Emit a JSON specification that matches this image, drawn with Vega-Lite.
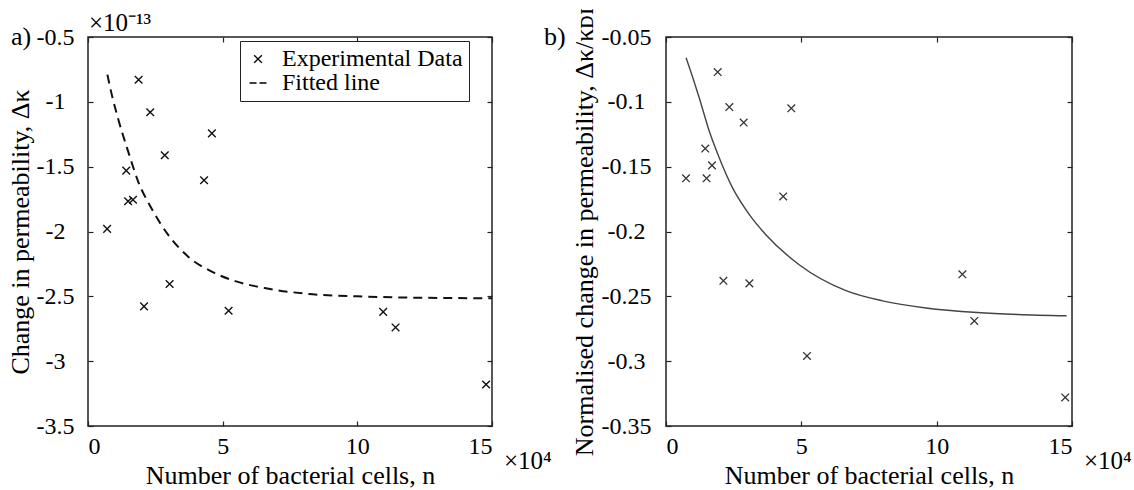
{
  "$schema": "https://vega.github.io/schema/vega-lite/v6.json",
  "background": "white",
  "padding": {"left": 6, "top": 6, "right": 0, "bottom": 0},
  "spacing": 174,
  "bounds": "flush",
  "config": {
    "font": "Liberation Serif",
    "view": {"stroke": "#222", "strokeWidth": 1.5},
    "axis": {"grid": false, "domain": false, "labelFont": "Liberation Serif", "titleFont": "Liberation Serif", "labelFontSize": 24, "titleFontSize": 26, "titleFontWeight": "normal", "labelColor": "black", "titleColor": "black", "tickColor": "#222", "tickWidth": 1.2, "tickSize": 5, "offset": -5},
    "legend": {"labelFont": "Liberation Serif", "labelFontSize": 24, "labelLimit": 0, "labelColor": "black", "strokeColor": "#222", "padding": 6, "rowPadding": 0, "labelOffset": 12, "symbolSize": 289, "symbolStrokeWidth": 1.3, "symbolStrokeColor": "black", "symbolFillColor": "transparent", "title": null, "fillColor": "white"},
    "text": {"font": "Liberation Serif", "fontSize": 26, "color": "black"}
  },
  "datasets": {
    "leftPts": [
      {"n": 0.71, "dk": -1.98, "s": "Experimental Data"},
      {"n": 1.88, "dk": -0.83, "s": "Experimental Data"},
      {"n": 2.31, "dk": -1.08, "s": "Experimental Data"},
      {"n": 1.42, "dk": -1.53, "s": "Experimental Data"},
      {"n": 1.49, "dk": -1.767, "s": "Experimental Data"},
      {"n": 1.67, "dk": -1.755, "s": "Experimental Data"},
      {"n": 2.85, "dk": -1.412, "s": "Experimental Data"},
      {"n": 4.60, "dk": -1.243, "s": "Experimental Data"},
      {"n": 4.31, "dk": -1.605, "s": "Experimental Data"},
      {"n": 2.08, "dk": -2.577, "s": "Experimental Data"},
      {"n": 3.03, "dk": -2.405, "s": "Experimental Data"},
      {"n": 5.22, "dk": -2.611, "s": "Experimental Data"},
      {"n": 10.96, "dk": -2.62, "s": "Experimental Data"},
      {"n": 11.42, "dk": -2.74, "s": "Experimental Data"},
      {"n": 14.78, "dk": -3.18, "s": "Experimental Data"}
    ],
    "leftFit": [
      {"n": 0.72, "dk": -0.79}, {"n": 0.9, "dk": -0.96}, {"n": 1.11, "dk": -1.125},
      {"n": 1.49, "dk": -1.382}, {"n": 1.86, "dk": -1.613}, {"n": 2.35, "dk": -1.819},
      {"n": 2.97, "dk": -2.024}, {"n": 3.71, "dk": -2.192}, {"n": 4.70, "dk": -2.32},
      {"n": 5.5, "dk": -2.385}, {"n": 6.56, "dk": -2.436}, {"n": 8, "dk": -2.478},
      {"n": 10, "dk": -2.50}, {"n": 12, "dk": -2.51}, {"n": 15, "dk": -2.515}
    ],
    "rightPts": [
      {"n": 0.74, "r": -0.159, "s": "Experimental Data"},
      {"n": 1.50, "r": -0.159, "s": "Experimental Data"},
      {"n": 1.45, "r": -0.136, "s": "Experimental Data"},
      {"n": 1.70, "r": -0.149, "s": "Experimental Data"},
      {"n": 1.91, "r": -0.077, "s": "Experimental Data"},
      {"n": 2.34, "r": -0.104, "s": "Experimental Data"},
      {"n": 2.87, "r": -0.116, "s": "Experimental Data"},
      {"n": 4.63, "r": -0.105, "s": "Experimental Data"},
      {"n": 4.33, "r": -0.173, "s": "Experimental Data"},
      {"n": 2.12, "r": -0.238, "s": "Experimental Data"},
      {"n": 3.08, "r": -0.240, "s": "Experimental Data"},
      {"n": 5.21, "r": -0.296, "s": "Experimental Data"},
      {"n": 10.95, "r": -0.233, "s": "Experimental Data"},
      {"n": 11.39, "r": -0.269, "s": "Experimental Data"},
      {"n": 14.75, "r": -0.328, "s": "Experimental Data"}
    ],
    "rightFit": [
      {"n": 0.74, "r": -0.066}, {"n": 1.0, "r": -0.082}, {"n": 1.23, "r": -0.097},
      {"n": 1.6, "r": -0.1227}, {"n": 1.97, "r": -0.1433}, {"n": 2.46, "r": -0.1664},
      {"n": 3.08, "r": -0.187}, {"n": 3.69, "r": -0.2025}, {"n": 4.92, "r": -0.2256},
      {"n": 6.65, "r": -0.2456}, {"n": 8.0, "r": -0.2535}, {"n": 9.6, "r": -0.259},
      {"n": 11.5, "r": -0.2625}, {"n": 13, "r": -0.264}, {"n": 14.8, "r": -0.265}
    ],
    "labA": [{"t": "a)"}],
    "labB": [{"t": "b)"}],
    "exp13": [{"t": "×10⁻¹³"}],
    "exp4": [{"t": "×10⁴"}]
  },
  "hconcat": [
    {
      "width": 404,
      "height": 389,
      "resolve": {"scale": {"x": "independent", "y": "independent"}},
      "layer": [
        {
          "data": {"name": "leftPts"},
          "mark": {"type": "point", "filled": false, "strokeWidth": 1.4, "color": "#111", "opacity": 1},
          "encoding": {
            "x": {"field": "n", "type": "quantitative", "scale": {"domain": [0, 15], "nice": false, "zero": false},
                  "axis": {"orient": "bottom", "values": [0, 5, 10, 15], "title": "Number of bacterial cells, n", "labelPadding": 8, "titlePadding": 4}},
            "y": {"field": "dk", "type": "quantitative", "scale": {"domain": [-3.5, -0.5], "nice": false, "zero": false},
                  "axis": {"orient": "left", "values": [-3.5, -3, -2.5, -2, -1.5, -1, -0.5], "labelExpr": "'' + datum.value", "labelAlign": "center", "labelPadding": 33, "title": "Change in permeability, Δκ", "titlePadding": 3}},
            "shape": {"field": "s", "type": "nominal",
                      "scale": {"domain": ["Experimental Data", "Fitted line"], "range": ["M-0.45,-0.45L0.45,0.45M-0.45,0.45L0.45,-0.45", "M-1,0L-0.17,0M0.17,0L1,0"]},
                      "legend": {"orient": "none", "legendX": 152, "legendY": 4}},
            "size": {"value": 289}
          }
        },
        {
          "data": {"name": "leftFit"},
          "mark": {"type": "line", "color": "#111", "strokeWidth": 2, "strokeDash": [9, 6], "interpolate": "monotone"},
          "encoding": {
            "x": {"field": "n", "type": "quantitative", "scale": {"domain": [0, 15], "nice": false, "zero": false},
                  "axis": {"orient": "top", "values": [0, 5, 10, 15], "labels": false, "title": null}},
            "y": {"field": "dk", "type": "quantitative", "scale": {"domain": [-3.5, -0.5], "nice": false, "zero": false},
                  "axis": {"orient": "right", "values": [-3.5, -3, -2.5, -2, -1.5, -1, -0.5], "labels": false, "title": null}}
          }
        },
        {
          "data": {"name": "labA"},
          "mark": {"type": "text", "align": "left", "baseline": "alphabetic", "dx": -77, "dy": 8},
          "encoding": {
            "x": {"datum": 0, "type": "quantitative", "scale": {"domain": [0, 15], "nice": false, "zero": false}, "axis": null},
            "y": {"datum": -0.5, "type": "quantitative", "scale": {"domain": [-3.5, -0.5], "nice": false, "zero": false}, "axis": null},
            "text": {"field": "t"}
          }
        },
        {
          "data": {"name": "exp13"},
          "mark": {"type": "text", "align": "left", "baseline": "alphabetic", "dx": 1, "dy": -6, "fontSize": 25},
          "encoding": {
            "x": {"datum": 0, "type": "quantitative", "scale": {"domain": [0, 15], "nice": false, "zero": false}, "axis": null},
            "y": {"datum": -0.5, "type": "quantitative", "scale": {"domain": [-3.5, -0.5], "nice": false, "zero": false}, "axis": null},
            "text": {"field": "t"}
          }
        },
        {
          "data": {"name": "exp4"},
          "mark": {"type": "text", "align": "left", "baseline": "alphabetic", "dx": 12, "dy": 43, "fontSize": 25},
          "encoding": {
            "x": {"datum": 15, "type": "quantitative", "scale": {"domain": [0, 15], "nice": false, "zero": false}, "axis": null},
            "y": {"datum": -3.5, "type": "quantitative", "scale": {"domain": [-3.5, -0.5], "nice": false, "zero": false}, "axis": null},
            "text": {"field": "t"}
          }
        }
      ]
    },
    {
      "width": 406,
      "height": 389,
      "resolve": {"scale": {"x": "independent", "y": "independent"}},
      "layer": [
        {
          "data": {"name": "rightPts"},
          "mark": {"type": "point", "filled": false, "strokeWidth": 1.3, "color": "#333", "opacity": 1},
          "encoding": {
            "x": {"field": "n", "type": "quantitative", "scale": {"domain": [0, 15], "nice": false, "zero": false},
                  "axis": {"orient": "bottom", "values": [0, 5, 10, 15], "title": "Number of bacterial cells, n", "labelPadding": 8, "titlePadding": 4}},
            "y": {"field": "r", "type": "quantitative", "scale": {"domain": [-0.35, -0.05], "nice": false, "zero": false},
                  "axis": {"orient": "left", "values": [-0.35, -0.3, -0.25, -0.2, -0.15, -0.1, -0.05], "labelExpr": "'' + datum.value", "labelAlign": "center", "labelPadding": 40, "title": "Normalised change in permeability, Δκ/κᴅɪ", "titlePadding": 4}},
            "shape": {"field": "s", "type": "nominal",
                      "scale": {"domain": ["Experimental Data", "Fitted line"], "range": ["M-0.5,0L0.5,0M0,-0.5L0,0.5", "M-1,0L1,0"]},
                      "legend": {"orient": "none", "legendX": 155, "legendY": 4}},
            "size": {"value": 289}
          }
        },
        {
          "data": {"name": "rightFit"},
          "mark": {"type": "line", "color": "#444", "strokeWidth": 1.4, "interpolate": "monotone"},
          "encoding": {
            "x": {"field": "n", "type": "quantitative", "scale": {"domain": [0, 15], "nice": false, "zero": false},
                  "axis": {"orient": "top", "values": [0, 5, 10, 15], "labels": false, "title": null}},
            "y": {"field": "r", "type": "quantitative", "scale": {"domain": [-0.35, -0.05], "nice": false, "zero": false},
                  "axis": {"orient": "right", "values": [-0.35, -0.3, -0.25, -0.2, -0.15, -0.1, -0.05], "labels": false, "title": null}}
          }
        },
        {
          "data": {"name": "labB"},
          "mark": {"type": "text", "align": "left", "baseline": "alphabetic", "dx": -122, "dy": 8},
          "encoding": {
            "x": {"datum": 0, "type": "quantitative", "scale": {"domain": [0, 15], "nice": false, "zero": false}, "axis": null},
            "y": {"datum": -0.05, "type": "quantitative", "scale": {"domain": [-0.35, -0.05], "nice": false, "zero": false}, "axis": null},
            "text": {"field": "t"}
          }
        },
        {
          "data": {"name": "exp4"},
          "mark": {"type": "text", "align": "left", "baseline": "alphabetic", "dx": 12, "dy": 43, "fontSize": 25},
          "encoding": {
            "x": {"datum": 15, "type": "quantitative", "scale": {"domain": [0, 15], "nice": false, "zero": false}, "axis": null},
            "y": {"datum": -0.35, "type": "quantitative", "scale": {"domain": [-0.35, -0.05], "nice": false, "zero": false}, "axis": null},
            "text": {"field": "t"}
          }
        }
      ]
    }
  ]
}
